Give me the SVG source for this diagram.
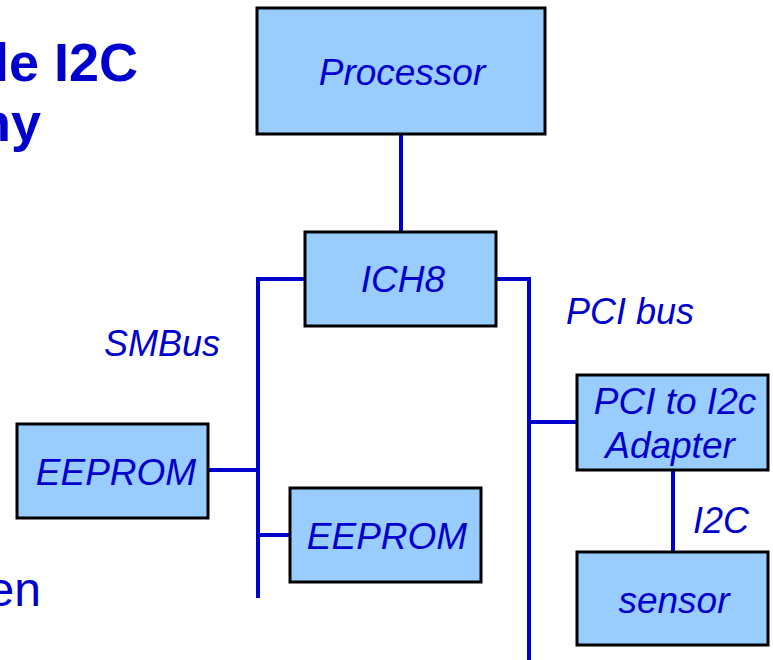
<svg xmlns="http://www.w3.org/2000/svg" width="773" height="660" viewBox="0 0 773 660">
<style>
.box{fill:#99CCFF;stroke:#000;stroke-width:3}
.t{font-family:"Liberation Sans",Arial,sans-serif;font-style:italic;font-size:37px;fill:#0000CC;text-anchor:middle}
.lbl{font-family:"Liberation Sans",Arial,sans-serif;font-style:italic;font-size:36px;fill:#0000CC}
.title{font-family:"Liberation Sans",Arial,sans-serif;font-weight:bold;font-size:54px;fill:#0000CC;text-anchor:end}
.body{font-family:"Liberation Sans",Arial,sans-serif;font-size:48px;fill:#0000CC;text-anchor:end}
.c{stroke:#0000CC;stroke-width:4;fill:none}
</style>
<rect width="773" height="660" fill="#fff"/>
<g id="title">
<text class="title" x="138" y="81">le I2C</text>
<text class="title" x="41" y="141">ny</text>
<text class="body" x="41" y="606">en</text>
</g>
<g id="connectors">
<path class="c" d="M401,135 V231"/>
<path class="c" d="M304,279 H258 V598"/>
<path class="c" d="M209,470 H258"/>
<path class="c" d="M258,535 H289"/>
<path class="c" d="M497,279 H529 V660"/>
<path class="c" d="M529,422 H576"/>
<path class="c" d="M673,471 V551"/>
</g>
<g id="labels">
<text class="lbl" x="104" y="356">SMBus</text>
<text class="lbl" x="566" y="324">PCI bus</text>
<text class="lbl" x="693" y="533">I2C</text>
</g>
<g id="processor">
<rect class="box" x="257" y="8" width="288" height="126"/>
<text class="t" x="402" y="85">Processor</text>
</g>
<g id="ich8">
<rect class="box" x="305" y="232" width="191" height="94"/>
<text class="t" x="403" y="292">ICH8</text>
</g>
<g id="eeprom1">
<rect class="box" x="17" y="424" width="191" height="94"/>
<text class="t" x="116" y="485">EEPROM</text>
</g>
<g id="eeprom2">
<rect class="box" x="290" y="488" width="191" height="94"/>
<text class="t" x="387" y="549">EEPROM</text>
</g>
<g id="adapter">
<rect class="box" x="577" y="375" width="191" height="95"/>
<text class="t" x="675" y="414">PCI to I2c</text>
<text class="t" x="670" y="458">Adapter</text>
</g>
<g id="sensor">
<rect class="box" x="577" y="552" width="191" height="93"/>
<text class="t" x="674" y="613">sensor</text>
</g>
</svg>
